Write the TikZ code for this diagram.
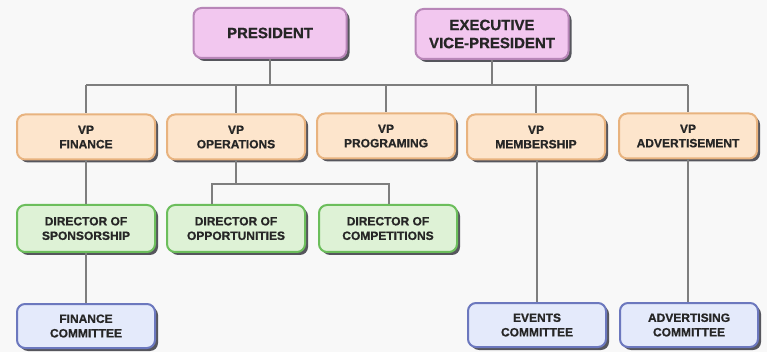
\documentclass[tikz,border=0pt]{standalone}
\usepackage{fontspec}
\setmainfont{Liberation Sans}[BoldFeatures={FakeBold=0.8}]
\usetikzlibrary{shadows}
\definecolor{bgc}{HTML}{F8F8F8}
\definecolor{pinkf}{HTML}{F2C7EF}
\definecolor{pinkd}{HTML}{B886B8}
\definecolor{orf}{HTML}{FDE5CC}
\definecolor{ord}{HTML}{E8B37F}
\definecolor{grf}{HTML}{DEF2D6}
\definecolor{grd}{HTML}{6CBE5C}
\definecolor{blf}{HTML}{E4EAFB}
\definecolor{bld}{HTML}{6C78BE}
\definecolor{linec}{HTML}{7E7E7E}
\definecolor{txtc}{HTML}{262626}
\definecolor{shc}{HTML}{45454D}
\tikzset{
  box/.style={rectangle, rounded corners=8pt, line width=2pt, align=center,
    text=txtc, font=\bfseries\fontsize{12}{14.5}\selectfont, inner sep=2pt,
    minimum width=138pt, minimum height=45pt,
    drop shadow={shadow xshift=3pt, shadow yshift=-3pt, fill=shc, opacity=0.9}},
  topbox/.style={box, fill=pinkf, draw=pinkd, minimum width=153pt, minimum height=50pt,
    font=\bfseries\fontsize{15}{18}\selectfont},
  vpbox/.style={box, fill=orf, draw=ord},
  dirbox/.style={box, fill=grf, draw=grd, minimum height=47pt},
  combox/.style={box, fill=blf, draw=bld, minimum height=44pt},
  conn/.style={draw=linec, line width=1.1pt}
}
\begin{document}
\begin{tikzpicture}[x=1pt,y=-1pt]
\fill[bgc] (0,0) rectangle (767,352);
\useasboundingbox (0,0) rectangle (767,352);

\node[topbox] (pres) at (270,33) {PRESIDENT};
\node[topbox] (evp) at (492,34) {EXECUTIVE\\VICE-PRESIDENT};

\node[vpbox] (vpf) at (86,137) {VP\\FINANCE};
\node[vpbox] (vpo) at (236,137) {VP\\OPERATIONS};
\node[vpbox] (vpp) at (386,136) {VP\\PROGRAMING};
\node[vpbox] (vpm) at (536,137) {VP\\MEMBERSHIP};
\node[vpbox] (vpa) at (688,136) {VP\\ADVERTISEMENT};

\node[dirbox] (dsp) at (86,228.5) {DIRECTOR OF\\SPONSORSHIP};
\node[dirbox] (dop) at (236,228.5) {DIRECTOR OF\\OPPORTUNITIES};
\node[dirbox] (dco) at (388,228.5) {DIRECTOR OF\\COMPETITIONS};

\node[combox] (cfi) at (86,326) {FINANCE\\COMMITTEE};
\node[combox] (cev) at (537,325) {EVENTS\\COMMITTEE};
\node[combox] (cad) at (689,325) {ADVERTISING\\COMMITTEE};

\coordinate (busL) at (86,85);
\coordinate (busR) at (688,85);
\coordinate (obL) at (212,184);
\coordinate (obR) at (389,184);

\draw[conn] (pres.south) -- (pres.south |- busL);
\draw[conn] (evp.south) -- (evp.south |- busL);
\draw[conn] (busL) -- (busR);
\foreach \n in {vpf,vpo,vpp,vpm,vpa}{
  \draw[conn] (\n.north |- busL) -- (\n.north);
}
\draw[conn] (vpf.south) -- (dsp.north);
\draw[conn] (dsp.south) -- (cfi.north);
\draw[conn] (vpo.south) -- (vpo.south |- obL);
\draw[conn] (dop.north -| obL) -- (obL) -- (obR) -- (dco.north -| obR);
\draw[conn] (vpm.south) -- (vpm.south -| cev.north) -- (cev.north);
\draw[conn] (vpa.south) -- (cad.north -| vpa.south);
\end{tikzpicture}
\end{document}
